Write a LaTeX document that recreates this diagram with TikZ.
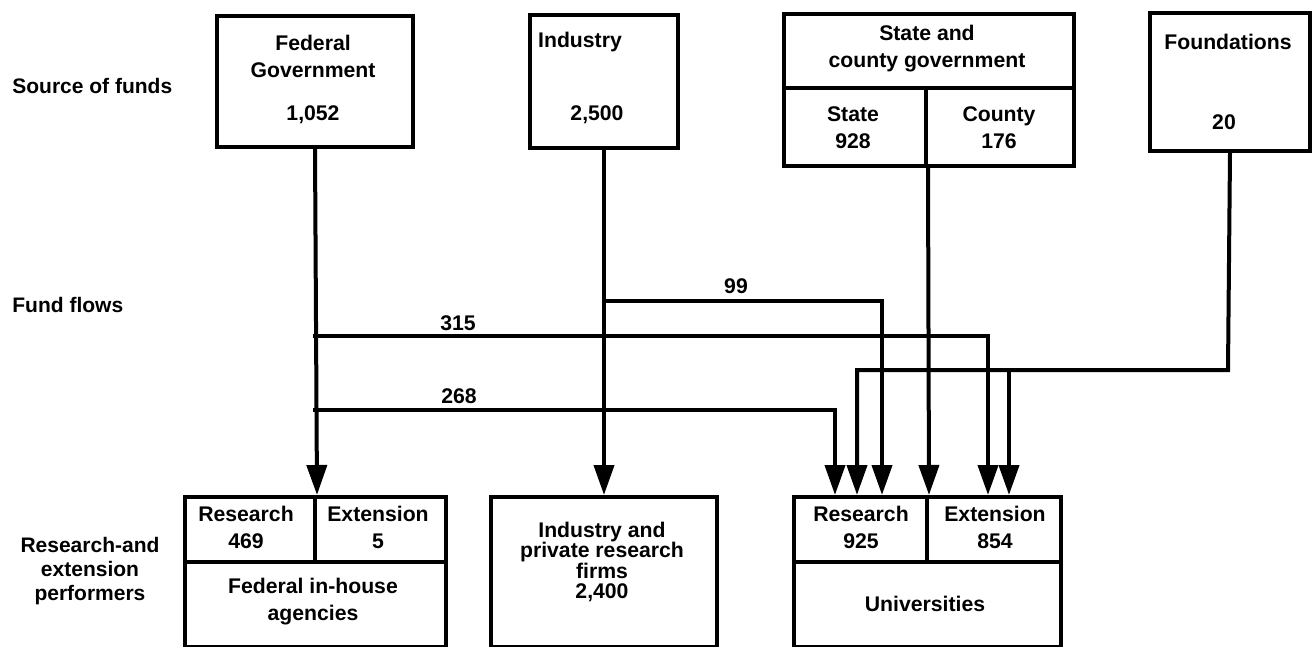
\documentclass[tikz,border=0pt]{standalone}
\usepackage{fontspec}
\setmainfont{Liberation Sans}
\usetikzlibrary{arrows.meta}
\begin{document}
\begin{tikzpicture}[x=0.5pt,y=-0.5pt,
  box/.style={draw, line width=2pt, inner sep=0pt, anchor=north west},
  lbl/.style={font=\fontsize{10.6}{13.5}\selectfont\bfseries, align=center, inner sep=0pt},
  tight/.style={font=\fontsize{10.6}{10.3}\selectfont\bfseries, align=center, inner sep=0pt},
  side/.style={font=\fontsize{10.5}{11.8}\selectfont\bfseries, align=center, inner sep=0pt},
  flow/.style={line width=2pt, -{Triangle[length=15pt,width=10pt]}},
]
\useasboundingbox (0,0) rectangle (1313,647);
% side labels
\node[side, anchor=west] (srcl) at (12,86) {Source of funds};
\node[side, anchor=west] (flwl) at (12,305) {Fund flows};
\node[side] (perl) at (90,571) {Research-and\\extension\\performers};
% top boxes
\node[box, minimum width=98pt, minimum height=65.5pt] (fed) at (215,14) {};
\node[lbl] (fedt) at (313,56) {Federal\\Government};
\node[lbl] (fedn) at (313,115) {1,052};
\node[box, minimum width=74pt, minimum height=66.5pt] (ind) at (528,13) {};
\node[lbl] (indt) at (580,42) {Industry};
\node[lbl] (indn) at (597,115) {2,500};
\node[box, minimum width=145pt, minimum height=37pt] (stT) at (782,12) {};
\node[lbl] (stTt) at (927,49) {State and\\county government};
\node[box, minimum width=71pt, minimum height=39pt] (stS) at (782,86) {};
\node[box, minimum width=74pt, minimum height=39pt] (stC) at (924,86) {};
\node[lbl] (stSt) at (853,128) {State\\928};
\node[lbl] (stCt) at (999,128) {County\\176};
\node[box, minimum width=80pt, minimum height=69pt] (fnd) at (1148,11) {};
\node[lbl] (fndt) at (1228,42) {Foundations};
\node[lbl] (fndn) at (1224,122) {20};
% bottom boxes
\node[box, minimum width=65pt, minimum height=32.5pt] (fihR) at (183,495) {};
\node[box, minimum width=65.5pt, minimum height=32.5pt] (fihE) at (313,495) {};
\node[box, minimum width=130.5pt, minimum height=42.5pt] (fihA) at (183,560) {};
\node[lbl] (fihRt) at (246,527) {Research\\469};
\node[lbl] (fihEt) at (378,527) {Extension\\5};
\node[lbl] (fihAt) at (313,602) {Federal in-house\\agencies};
\node[box, minimum width=113pt, minimum height=75pt] (ifr) at (489,495) {};
\node[tight] (ifrt) at (602,562) {Industry and\\private research\\firms\\2,400};
\node[box, minimum width=66.5pt, minimum height=32.5pt] (uR) at (792,495) {};
\node[box, minimum width=67pt, minimum height=32.5pt] (uE) at (925,495) {};
\node[box, minimum width=133.5pt, minimum height=42.5pt] (uU) at (792,560) {};
\node[lbl] (uRt) at (861,527) {Research\\925};
\node[lbl] (uEt) at (995,527) {Extension\\854};
\node[lbl] (uUt) at (925,604) {Universities};
% junctions and arrow targets
\coordinate (j315) at (313,336);
\coordinate (j268) at (313,410);
\coordinate (j99) at (602,301);
\coordinate (fbend) at (1228,370);
\coordinate (fsplit) at (1009,370);
\coordinate (t268) at (835,495);
\coordinate (tfa) at (857,495);
\coordinate (t99) at (882,495);
\coordinate (t315) at (988,495);
\coordinate (tfb) at (1009,495);
% flows
\draw[flow] (fed.south) -- (fihR.north east);
\draw[flow] (j315) -| (t315);
\draw[flow] (j268) -| (t268);
\draw[flow] (ind.south) -- (ifr.north);
\draw[flow] (j99) -| (t99);
\draw[flow] (stS.south east) -- (uR.north east);
\draw[flow] (fnd.south) -- (fbend) -| (tfa);
\draw[flow] (fsplit) -- (tfb);
% flow labels
\node[lbl] (l315) at (458,323) {315};
\node[lbl] (l268) at (459,396) {268};
\node[lbl] (l99) at (736,286) {99};
\end{tikzpicture}
\end{document}
